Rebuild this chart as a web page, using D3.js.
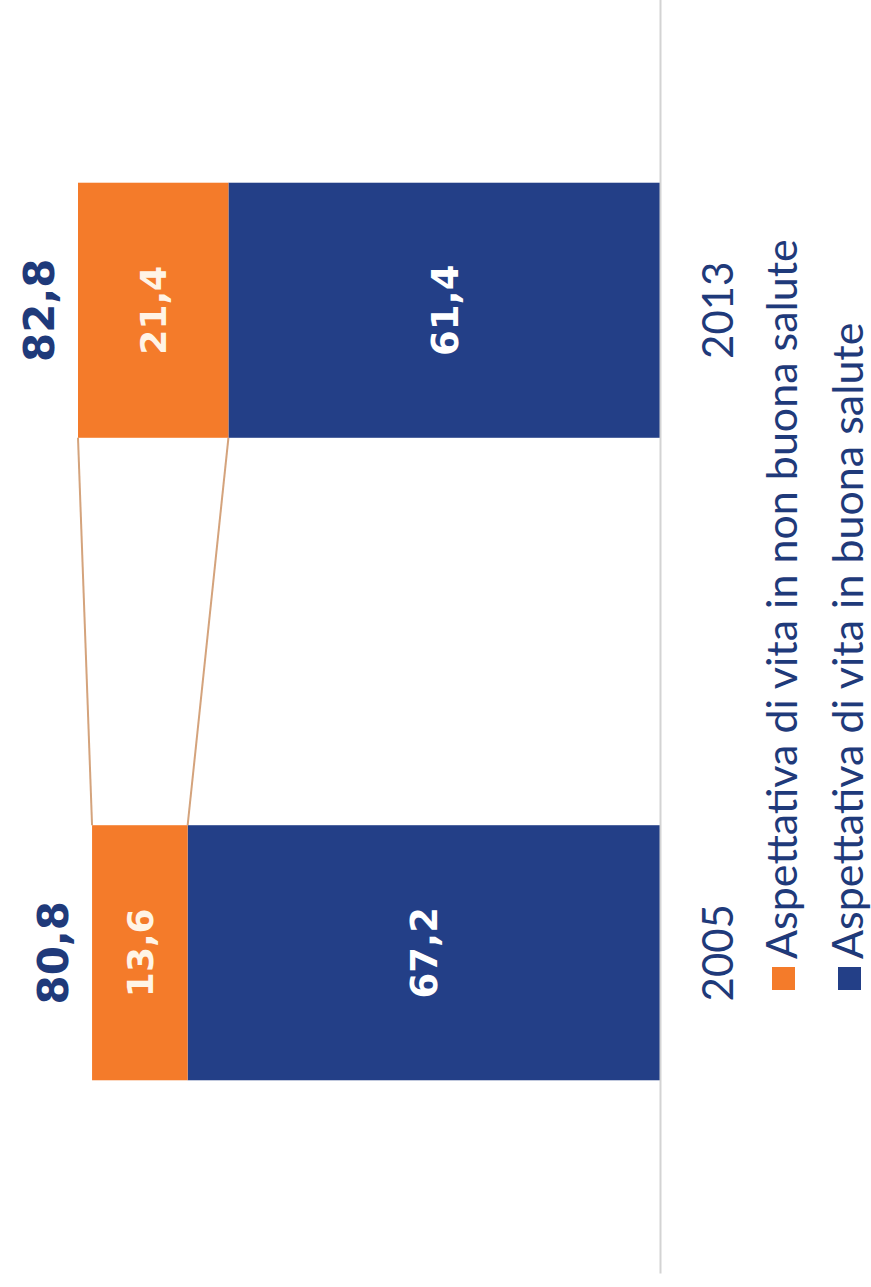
<!DOCTYPE html>
<html>
<head>
<meta charset="utf-8">
<script src="https://cdn.jsdelivr.net/npm/d3@7"></script>
<style>
  body { margin: 0; background: #fff; }
</style>
</head>
<body>
<div id="chart"></div>
<script>
const years = ["2005", "2013"];
const goodHealth = [67.2, 61.4];     // Aspettativa di vita in buona salute
const poorHealth = [13.6, 21.4];     // Aspettativa di vita in non buona salute
const totals = [80.8, 82.8];
const seriesNames = ["Aspettativa di vita in non buona salute", "Aspettativa di vita in buona salute"];

const fmt = v => d3.format(".1f")(v).replace(".", ",");

// page is drawn as a normal column chart, then turned 90 degrees
const W = 1287, H = 871;
const blue = "#233f87", orange = "#f47b2a", navy = "#1f3a7a";

const svg = d3.select("#chart")
  .append("svg")
  .attr("width", H)
  .attr("height", W);

const g = svg.append("g")
  .attr("transform", `translate(0, ${W}) rotate(-90)`);

const x = d3.scaleBand()
  .domain(years)
  .range([13, 1298])
  .paddingInner(0.603)
  .paddingOuter(0.3015);

const y = d3.scaleLinear()
  .domain([0, 82.8])
  .range([660, 78]);

const rows = years.map((yr, i) => ({ yr, good: goodHealth[i], poor: poorHealth[i], total: totals[i] }));

// connector lines between the orange segments
const a = rows[0], b = rows[1];
g.append("g")
  .selectAll("line")
  .data([[a.good + a.poor, b.good + b.poor], [a.good, b.good]])
  .join("line")
  .attr("x1", x(a.yr) + x.bandwidth())
  .attr("x2", x(b.yr))
  .attr("y1", d => y(d[0]))
  .attr("y2", d => y(d[1]))
  .attr("stroke", "#d4a37c")
  .attr("stroke-width", 2);

// blue part
g.append("g")
  .selectAll("rect")
  .data(rows)
  .join("rect")
  .attr("x", d => x(d.yr))
  .attr("width", x.bandwidth())
  .attr("y", d => y(d.good))
  .attr("height", d => y(0) - y(d.good))
  .attr("fill", blue);

// orange part
g.append("g")
  .selectAll("rect")
  .data(rows)
  .join("rect")
  .attr("x", d => x(d.yr))
  .attr("width", x.bandwidth())
  .attr("y", d => y(d.good + d.poor))
  .attr("height", d => y(d.good) - y(d.good + d.poor))
  .attr("fill", orange);

// value labels
const numFont = "'DejaVu Sans', Verdana, sans-serif";
g.append("g")
  .selectAll("text")
  .data(rows)
  .join("text")
  .attr("x", d => x(d.yr) + x.bandwidth() / 2)
  .attr("y", d => y(d.good / 2))
  .attr("dy", "0.36em")
  .attr("text-anchor", "middle")
  .attr("font-family", numFont)
  .attr("font-weight", "bold")
  .attr("font-size", 37)
  .attr("fill", "#fff")
  .text(d => fmt(d.good));

g.append("g")
  .selectAll("text")
  .data(rows)
  .join("text")
  .attr("x", d => x(d.yr) + x.bandwidth() / 2)
  .attr("y", d => y(d.good + d.poor / 2))
  .attr("dy", "0.36em")
  .attr("text-anchor", "middle")
  .attr("font-family", numFont)
  .attr("font-weight", "bold")
  .attr("font-size", 36)
  .attr("fill", "#fff4e6")
  .text(d => fmt(d.poor));

// totals above bars
g.append("g")
  .selectAll("text")
  .data(rows)
  .join("text")
  .attr("x", d => x(d.yr) + x.bandwidth() / 2)
  .attr("y", d => y(d.total) - 24)
  .attr("text-anchor", "middle")
  .attr("font-family", numFont)
  .attr("font-weight", "bold")
  .attr("font-size", 42)
  .attr("fill", navy)
  .text(d => fmt(d.total));

// category axis
const xAxis = d3.axisBottom(x).tickSize(0).tickSizeOuter(0);
const ax = g.append("g")
  .attr("transform", `translate(0, ${y(0)})`)
  .call(xAxis);
ax.select(".domain").attr("stroke", "#d3d3d3").attr("stroke-width", 2);
ax.selectAll("text")
  .attr("y", 73)
  .attr("dy", null)
  .attr("font-family", "Lato, 'Open Sans', sans-serif")
  .attr("font-size", 42)
  .attr("fill", navy);

// legend
const legend = g.append("g")
  .selectAll("g")
  .data(seriesNames)
  .join("g")
  .attr("transform", (d, i) => `translate(297, ${797 + i * 66})`);
legend.append("rect")
  .attr("y", -25)
  .attr("width", 23)
  .attr("height", 23)
  .attr("fill", (d, i) => i === 0 ? orange : blue);
legend.append("text")
  .attr("x", 31)
  .attr("font-family", "Lato, 'Open Sans', sans-serif")
  .attr("font-size", 43)
  .attr("fill", navy)
  .text(d => d);
</script>
</body>
</html>
